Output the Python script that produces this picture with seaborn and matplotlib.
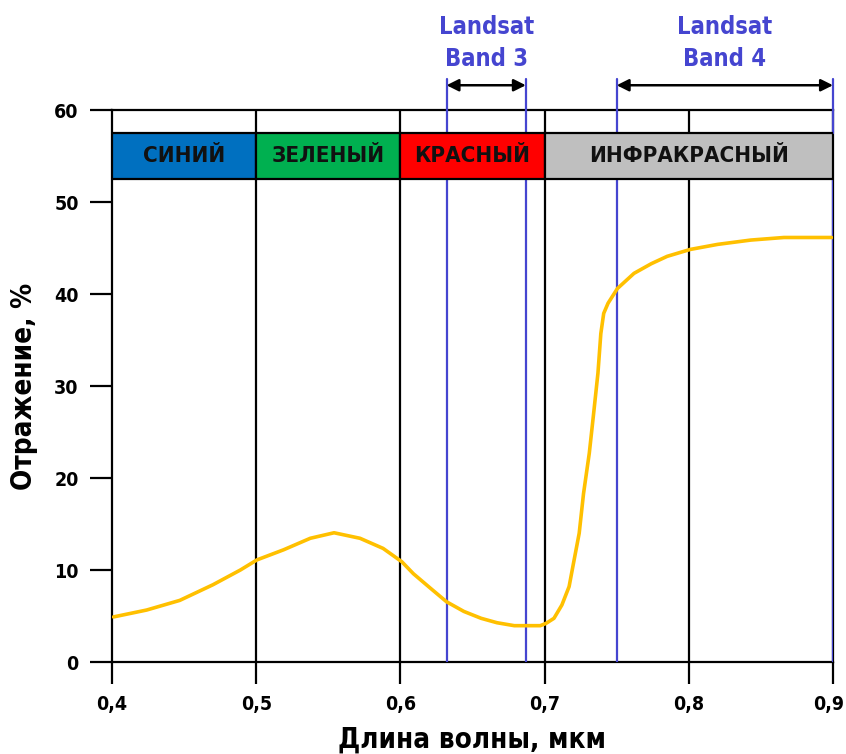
import matplotlib
matplotlib.use('Agg')
import matplotlib.pyplot as plt
import matplotlib.patches as mpatches
import matplotlib.transforms as mtransforms
from matplotlib import font_manager as fm
import pandas as pd
import seaborn as sns

# Кривая отражения
wavelength = [0.401, 0.424, 0.447, 0.470, 0.489, 0.5005, 0.519, 0.5375, 0.554, 0.572,
              0.588, 0.601, 0.609, 0.621, 0.632, 0.644, 0.656, 0.667, 0.679, 0.697,
              0.701, 0.7065, 0.712, 0.717, 0.720, 0.724, 0.727, 0.731, 0.734, 0.737,
              0.739, 0.741, 0.744, 0.7505, 0.762, 0.774, 0.785, 0.801, 0.820, 0.843,
              0.866, 0.899]
reflectance = [4.9, 5.65, 6.7, 8.4, 10.0, 11.1, 12.2, 13.45, 14.05, 13.45,
               12.35, 10.9, 9.6, 8.0, 6.55, 5.5, 4.75, 4.27, 3.95, 3.95,
               4.2, 4.75, 6.2, 8.2, 10.7, 14.0, 18.3, 22.7, 27.0, 31.4,
               35.7, 37.9, 39.0, 40.6, 42.25, 43.3, 44.1, 44.85, 45.4, 45.87,
               46.15, 46.15]

# Спектральные зоны
band_names = ['СИНИЙ', 'ЗЕЛЕНЫЙ', 'КРАСНЫЙ', 'ИНФРАКРАСНЫЙ']
band_start = [0.4, 0.5, 0.6, 0.7]
band_end = [0.5, 0.6, 0.7, 0.9]
band_colors = ['#0070C0', '#00B050', '#FF0000', '#BFBFBF']

# Каналы Landsat
landsat_labels = ['Landsat\nBand 3', 'Landsat\nBand 4']
landsat_start = [0.632, 0.75]
landsat_end = [0.687, 0.9]

x_ticks = [0.4, 0.5, 0.6, 0.7, 0.8, 0.9]
x_ticklabels = ['0,4', '0,5', '0,6', '0,7', '0,8', '0,9']
y_ticks = [0, 10, 20, 30, 40, 50, 60]


def find_narrow_bold():
    # ищем узкий жирный шрифт среди установленных
    fonts = fm.fontManager.ttflist
    for f in fonts:
        if 'liberationsansnarrow-bold.ttf' in f.fname.lower():
            return fm.FontProperties(fname=f.fname)
    for f in fonts:
        if 'dejavusanscondensed-bold.ttf' in f.fname.lower():
            return fm.FontProperties(fname=f.fname)
    return fm.FontProperties(family='DejaVu Sans', weight='bold')


sns.set_style('white')
fp = find_narrow_bold()


def font(size):
    p = fp.copy()
    p.set_size(size)
    return p


fig = plt.figure(figsize=(8.46, 7.54), dpi=100)
ax = fig.add_axes([0.1324, 0.122, 0.8522, 0.732])

df = pd.DataFrame({'x': wavelength, 'y': reflectance})
sns.lineplot(data=df, x='x', y='y', ax=ax, color='#FFC000', linewidth=2.6, zorder=4)

ax.set_xlim(0.4, 0.9)
ax.set_ylim(0, 60)

# Вертикальные линии сетки
for xv in x_ticks[1:-1]:
    ax.axvline(xv, color='black', linewidth=1.6, zorder=1)

# Цветные полосы зон
band_lo, band_hi = 52.5, 57.5
for name, x0, x1, c in zip(band_names, band_start, band_end, band_colors):
    ax.add_patch(mpatches.Rectangle((x0, band_lo), x1 - x0, band_hi - band_lo,
                                    facecolor=c, edgecolor='black', linewidth=1.6, zorder=5))
    ax.text((x0 + x1) / 2, (band_lo + band_hi) / 2, name, ha='center', va='center',
            fontproperties=font(16), color='#111111', zorder=6)

# Линии и подписи каналов Landsat
blue = '#4545D0'
for lab, x0, x1 in zip(landsat_labels, landsat_start, landsat_end):
    for xv in (x0, x1):
        ax.plot([xv, xv], [0, band_lo], color=blue, linewidth=1.6, zorder=3)
        ax.plot([xv, xv], [band_hi, 63.4], color=blue, linewidth=1.6, zorder=3, clip_on=False)
    ax.annotate('', xy=(x0, 62.7), xytext=(x1, 62.7), annotation_clip=False,
                arrowprops=dict(arrowstyle='<|-|>', color='black', lw=1.8,
                                mutation_scale=18, shrinkA=0, shrinkB=0))
    ax.text((x0 + x1) / 2, 67.3, lab, ha='center', va='center', color=blue,
            fontproperties=font(17), linespacing=1.45, clip_on=False)

ax.set_xticks(x_ticks)
ax.set_xticklabels(x_ticklabels)
ax.set_yticks(y_ticks)
ax.tick_params(axis='both', direction='out', length=16, width=1.6, color='black',
               labelcolor='black', pad=8, left=True, bottom=True)
for lbl in ax.get_xticklabels() + ax.get_yticklabels():
    lbl.set_fontproperties(font(14))
# последняя подпись чуть левее, чтобы не обрезалась краем
last = ax.get_xticklabels()[-1]
last.set_transform(last.get_transform() +
                   mtransforms.ScaledTranslation(-4 / 100, 0, fig.dpi_scale_trans))

for sp in ax.spines.values():
    sp.set_color('black')
    sp.set_linewidth(1.6)

ax.set_xlabel('Длина волны, мкм', fontproperties=font(20), color='black', labelpad=8)
ax.set_ylabel('Отражение, %', fontproperties=font(20), color='black', labelpad=12)

plt.savefig('out.png', dpi=100)
